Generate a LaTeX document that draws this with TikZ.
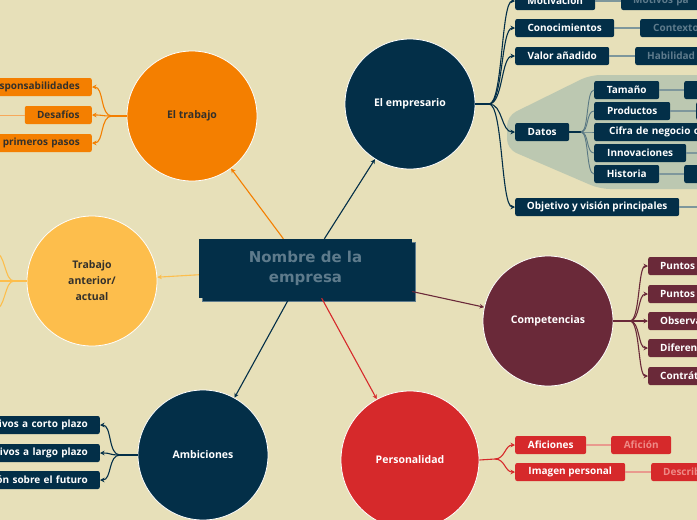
\documentclass[tikz,border=0pt]{standalone}
\usepackage{fontspec}
\setmainfont{Open Sans}
\newfontfamily\titlefont{DejaVu Sans}
\usetikzlibrary{arrows.meta,shadows}
\definecolor{bg}{HTML}{E7E0B9}
\definecolor{navy}{HTML}{032F48}
\definecolor{navyfade}{HTML}{5E7B8C}
\definecolor{navyline}{HTML}{7E979C}
\definecolor{orng}{HTML}{F47F00}
\definecolor{orngline}{HTML}{F7A85A}
\definecolor{lorng}{HTML}{FDBE4C}
\definecolor{maroon}{HTML}{6A2939}
\definecolor{pred}{HTML}{D6292B}
\definecolor{redfade}{HTML}{EE8A86}
\definecolor{redline}{HTML}{E99A8E}
\definecolor{sage}{HTML}{BCC8B1}
\definecolor{darktext}{HTML}{33302B}
\begin{document}
\begin{tikzpicture}[x=1pt,y=-1pt,
  topic/.style={circle, minimum size=130pt, draw=white, line width=0.8pt, font=\bfseries\fontsize{10.5}{16}\selectfont, text=white, align=center, inner sep=0pt},
  bx/.style={rounded corners=2pt, minimum height=18pt, inner ysep=0pt, inner xsep=0pt, font=\bfseries\fontsize{10}{11}\selectfont, text=white},
  nb/.style={bx, fill=navy},
  ob/.style={bx, fill=orng, text=darktext},
  mb/.style={bx, fill=maroon},
  rb/.style={bx, fill=pred},
  cutR/.style={anchor=west, text width=130pt, align=left, inner xsep=#1},
  cutL/.style={anchor=east, text width=140pt, align=right, inner xsep=12pt},
  arr/.style={-{Stealth[length=4.5pt,width=4.5pt]}},
  br/.style={line width=1.1pt},
  tail/.style={line width=1.2pt}]
\useasboundingbox (0,0) rectangle (697,520);
\clip (0,0) rectangle (697,520);
\fill[bg] (0,0) rectangle (697,520);
\fill[sage, rounded corners=10pt] (507,116) -- (590,75) -- (720,75) -- (720,189) -- (600,189) -- (507,149) -- cycle;

% topics
\node[topic, fill=navy] (emp) at (410,104) {El empresario};
\node[topic, fill=orng, text=darktext] (trab) at (192,116) {El trabajo};
\node[topic, fill=lorng, text=darktext] (ant) at (92,281) {Trabajo\\anterior/\\actual};
\node[topic, fill=navy] (amb) at (203,455) {Ambiciones};
\node[topic, fill=pred, minimum size=138pt] (per) at (410,460) {Personalidad};
\node[topic, fill=maroon] (comp) at (548,321) {Competencias};

% central
\node[fill=navy, minimum width=213pt, minimum height=59pt, text=navyfade, align=center,
  font=\titlefont\bfseries\fontsize{15}{20}\selectfont,
  copy shadow={shadow xshift=3pt, shadow yshift=-3pt, draw=navyfade, line width=0.6pt, fill=navy}] (main) at (305.5,268.5) {Nombre de la\\empresa};

\draw[navy, br, arr] (main) -- (emp);
\draw[orng, br, arr] (main) -- (trab);
\draw[lorng, br, arr] (main) -- (ant);
\draw[navy, br, arr] (main) -- (amb);
\draw[pred, br, arr] (main) -- (per);
\draw[maroon, br, arr] (main) -- (comp);

% El empresario children
\node[nb, anchor=west, minimum width=80pt] (mot) at (515,1) {Motivación};
\node[nb, cutR=12pt, text=navyfade] (motc) at (621,1) {Motivos pa};
\node[nb, anchor=west, minimum width=99pt] (con) at (515,28) {Conocimientos};
\node[nb, cutR=13pt, text=navyfade] (conc) at (640,28) {Contexto};
\node[nb, anchor=west, minimum width=94pt] (val) at (515,56) {Valor añadido};
\node[nb, cutR=12pt, text=navyfade] (valc) at (635,56) {Habilidad};
\node[nb, anchor=west, minimum width=54pt] (dat) at (515,132) {Datos};
\node[nb, anchor=west, minimum width=164pt] (obj) at (515,207) {Objetivo y visión principales};
\coordinate (objc) at (705,207);

\node[nb, anchor=west, minimum width=65pt] (tam) at (594,90) {Tamaño};
\node[nb, cutR=10pt] (tamc) at (684,90) {};
\node[nb, anchor=west, minimum width=76pt] (pro) at (594,111) {Productos};
\node[nb, cutR=10pt] (proc) at (696,111) {};
\node[nb, cutR=15pt] (cif) at (594,132) {Cifra de negocio o};
\node[nb, anchor=west, minimum width=92pt] (inn) at (594,153) {Innovaciones};
\coordinate (innc) at (705,153);
\node[nb, anchor=west, minimum width=65pt] (his) at (594,174) {Historia};
\node[nb, cutR=10pt] (hisc) at (684,174) {};

\coordinate (eF) at (489,104);
\draw[navy, br] (emp.east) -- (eF);
\foreach \t in {mot,con,val,dat,obj}
  \draw[navy, br, arr] (eF) .. controls +(14,0) and +(-14,0) .. (\t.west);
\draw[navyline, tail] (mot.east) -- (motc.west);
\draw[navyline, tail] (con.east) -- (conc.west);
\draw[navyline, tail] (val.east) -- (valc.west);
\draw[navyline, tail] (obj.east) -- (objc);

\coordinate (dF) at (581,132);
\draw[navy, br] (dat.east) -- (dF);
\foreach \t in {tam,pro,cif,inn,his}
  \draw[navyline!70!navy, line width=0.9pt] (dF) .. controls +(8,0) and +(-8,0) .. (\t.west);
\draw[navyline, tail] (tam.east) -- (tamc.west);
\draw[navyline, tail] (pro.east) -- (proc.west);
\draw[navyline, tail] (inn.east) -- (innc);
\draw[navyline, tail] (his.east) -- (hisc.west);

% El trabajo children
\node[ob, cutL] (res) at (92,87) {sponsabilidades};
\node[ob, anchor=east, minimum width=67pt] (des) at (92,115) {Desafíos};
\coordinate (desc) at (-5,115);
\node[ob, cutL] (pri) at (92,143) {primeros pasos};
\coordinate (tF) at (112,116);
\draw[orng, br] (trab.west) -- (tF);
\foreach \t in {res,des,pri}
  \draw[orng, br, arr] (tF) .. controls +(-12,0) and +(12,0) .. (\t.east);
\draw[orngline, line width=0.8pt] (des.west) -- (desc);

% Trabajo anterior children (off page)
\coordinate (aF) at (14,281);
\coordinate (a1) at (-6,252);
\coordinate (a2) at (-6,281);
\coordinate (a3) at (-6,310);
\draw[lorng, br] (ant.west) -- (aF);
\foreach \t in {a1,a2,a3}
  \draw[lorng, br] (aF) .. controls +(-10,0) and +(12,0) .. (\t);

% Ambiciones children
\node[nb, cutL] (m1) at (100,425) {tivos a corto plazo};
\node[nb, cutL] (m2) at (100,453) {tivos a largo plazo};
\node[nb, cutL] (m3) at (100,480) {ón sobre el futuro};
\coordinate (mF) at (120,455);
\draw[navy, br] (amb.west) -- (mF);
\foreach \t in {m1,m2,m3}
  \draw[navy, br, arr] (mF) .. controls +(-12,0) and +(12,0) .. (\t.east);

% Competencias children
\node[mb, cutR=12pt] (c1) at (648,266) {Puntos};
\node[mb, cutR=12pt] (c2) at (648,294) {Puntos};
\node[mb, cutR=12pt] (c3) at (648,321) {Observa};
\node[mb, cutR=12pt] (c4) at (648,348) {Diferen};
\node[mb, cutR=12pt] (c5) at (648,376) {Contrát};
\coordinate (cF) at (630,321);
\draw[maroon, br] (comp.east) -- (cF);
\foreach \t in {c1,c2,c3,c4,c5}
  \draw[maroon, br, arr] (cF) .. controls +(10,0) and +(-10,0) .. (\t.west);

% Personalidad children
\node[rb, anchor=west, minimum width=71pt] (p1) at (515,445) {Aficiones};
\node[rb, anchor=west, minimum width=60pt, text=redfade] (p1c) at (611,445) {Afición};
\node[rb, anchor=west, minimum width=110pt] (p2) at (515,472) {Imagen personal};
\node[rb, cutR=12pt, text=redfade] (p2c) at (651,472) {Describ};
\coordinate (pF) at (495,459);
\draw[pred, br] (per.east) -- (pF);
\foreach \t in {p1,p2}
  \draw[pred, br, arr] (pF) .. controls +(10,0) and +(-10,0) .. (\t.west);
\draw[redline, tail] (p1.east) -- (p1c.west);
\draw[redline, tail] (p2.east) -- (p2c.west);
\end{tikzpicture}
\end{document}
